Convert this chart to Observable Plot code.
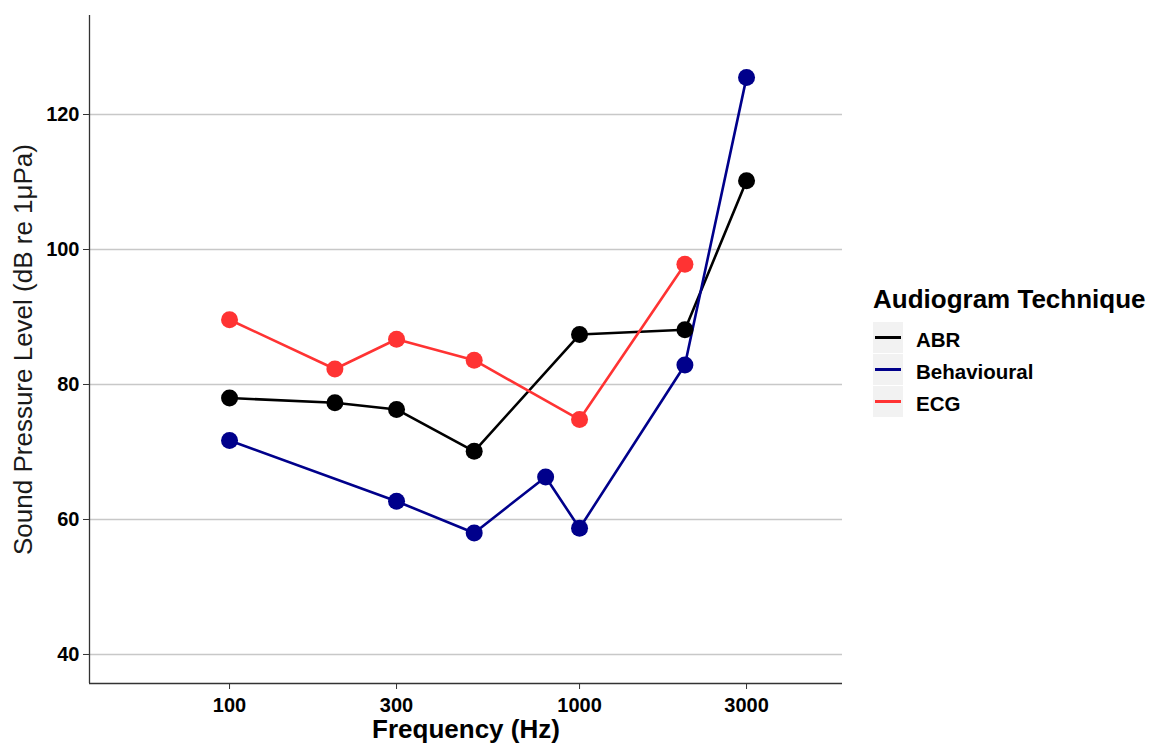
<!DOCTYPE html>
<html>
<head>
<meta charset="utf-8">
<script src="https://cdn.jsdelivr.net/npm/d3@7"></script>
<script src="https://cdn.jsdelivr.net/npm/@observablehq/plot@0.6"></script>
<style>
  body { margin: 0; background: #fff; font-family: "Liberation Sans", Arial, sans-serif; }
  #wrap { position: relative; width: 1157px; height: 743px; overflow: hidden; }
  #chart { position: absolute; left: 0; top: 0; }
  #legend { position: absolute; left: 873px; top: 282px; color: #000; }
  #legend .title { font-weight: bold; font-size: 26px; line-height: 34px; margin-bottom: 6px; white-space: nowrap; }
  #legend .row { display: flex; align-items: center; height: 31px; margin-bottom: 1px; }
  #legend .key { width: 30px; height: 31px; background: #f2f2f2; position: relative; }
  #legend .key span { position: absolute; left: 2px; right: 2px; top: 14px; height: 2.6px; }
  #legend .lab { font-weight: bold; font-size: 20.5px; margin-left: 13px; padding-top: 4px; white-space: nowrap; }
</style>
</head>
<body>
<div id="wrap">
  <div id="chart"></div>
  <div id="legend"></div>
</div>
<script>
// Hearing thresholds by audiogram technique
const techniques = ["ABR", "Behavioural", "ECG"];
const colours = ["#000000", "#00008B", "#FF3333"];

const abrFreq = [100, 200, 300, 500, 1000, 2000, 3000];
const abrSpl = [78.0, 77.3, 76.3, 70.1, 87.4, 88.1, 110.2];

const behaviouralFreq = [100, 300, 500, 800, 1000, 2000, 3000];
const behaviouralSpl = [71.7, 62.7, 58.0, 66.3, 58.7, 82.9, 125.5];

const ecgFreq = [100, 200, 300, 500, 1000, 2000];
const ecgSpl = [89.6, 82.3, 86.7, 83.6, 74.8, 97.8];

const xTicks = [100, 300, 1000, 3000];
const yTicks = [40, 60, 80, 100, 120];

const xLabel = "Frequency (Hz)";
const yLabel = "Sound Pressure Level (dB re 1\u03BCPa)";
const legendTitle = "Audiogram Technique";

// long-format table built from the series arrays
const series = [
  [techniques[0], abrFreq, abrSpl],
  [techniques[1], behaviouralFreq, behaviouralSpl],
  [techniques[2], ecgFreq, ecgSpl]
];
const data = series.flatMap(([technique, fs, vs]) =>
  fs.map((f, i) => ({technique, freq: f, spl: vs[i]}))
);

const xDomain = [39.8, 5640];
const yDomain = [35.7, 134.67];

const chart = Plot.plot({
  width: 860,
  height: 743,
  marginLeft: 89,
  marginRight: 18,
  marginTop: 15,
  marginBottom: 60,
  style: {fontFamily: "'Liberation Sans', Arial, sans-serif", background: "#fff", color: "#000"},
  x: {type: "log", domain: xDomain, axis: null},
  y: {domain: yDomain, axis: null},
  color: {domain: techniques, range: colours},
  marks: [
    Plot.gridY(yTicks, {stroke: "#c8c8c8", strokeOpacity: 1, strokeWidth: 1.4}),
    Plot.axisY({ticks: yTicks, tickSize: 6, tickPadding: 4, fontSize: 20, fontWeight: "bold", stroke: "#333", label: null}),
    Plot.axisX({ticks: xTicks, tickFormat: d => String(d), tickSize: 6, tickPadding: 8, fontSize: 20, fontWeight: "bold", stroke: "#333", label: null}),
    Plot.ruleX([xDomain[0]], {stroke: "#333", strokeWidth: 1.3}),
    Plot.ruleY([yDomain[0]], {stroke: "#333", strokeWidth: 1.3}),
    Plot.line(data, {x: "freq", y: "spl", z: "technique", stroke: "technique", strokeWidth: 2.6}),
    Plot.dot(data, {x: "freq", y: "spl", fill: "technique", r: 8.5}),
    Plot.text([xLabel], {frameAnchor: "bottom", lineAnchor: "middle", dy: 46, fontSize: 26, fontWeight: "bold", fill: "#000"}),
    Plot.text([yLabel], {frameAnchor: "left", textAnchor: "middle", lineAnchor: "middle", dx: -66, rotate: -90, fontSize: 26, fill: "#1a1a1a"})
  ]
});
document.getElementById("chart").appendChild(chart);

// legend
const legend = document.getElementById("legend");
const title = document.createElement("div");
title.className = "title";
title.textContent = legendTitle;
legend.appendChild(title);
techniques.forEach((t, i) => {
  const row = document.createElement("div");
  row.className = "row";
  const key = document.createElement("div");
  key.className = "key";
  const line = document.createElement("span");
  line.style.background = colours[i];
  key.appendChild(line);
  const lab = document.createElement("div");
  lab.className = "lab";
  lab.textContent = t;
  row.appendChild(key);
  row.appendChild(lab);
  legend.appendChild(row);
});
</script>
</body>
</html>
